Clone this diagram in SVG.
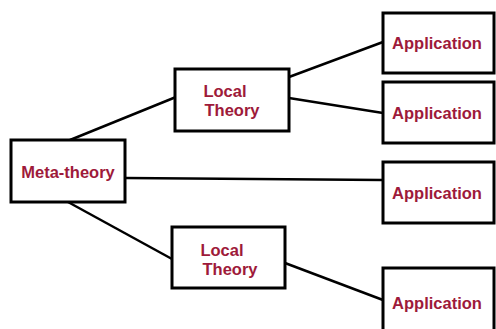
<svg xmlns="http://www.w3.org/2000/svg" width="496" height="329" viewBox="0 0 496 329">
<style>
.box{fill:#fff;stroke:#000;stroke-width:3}
.t{font-family:"Liberation Sans",Arial,sans-serif;font-weight:bold;font-size:16.5px;fill:#9E1A3A;text-anchor:middle}
.c{stroke:#000;stroke-width:2.5;fill:none}
</style>
<rect width="496" height="329" fill="#fff"/>
<g id="connectors">
<line class="c" x1="70" y1="140" x2="176" y2="97"/>
<line class="c" x1="125" y1="178" x2="383" y2="180"/>
<line class="c" x1="68" y1="202" x2="172" y2="259"/>
<line class="c" x1="289" y1="77" x2="383" y2="42"/>
<line class="c" x1="289" y1="98" x2="383" y2="113"/>
<line class="c" x1="285" y1="263" x2="383" y2="300"/>
</g>
<g id="meta">
<rect class="box" x="11" y="140" width="114" height="62"/>
<text class="t" x="68" y="178">Meta-theory</text>
</g>
<g id="local1">
<rect class="box" x="175" y="69" width="114" height="62"/>
<text class="t" x="225" y="97">Local</text>
<text class="t" x="232" y="116">Theory</text>
</g>
<g id="local2">
<rect class="box" x="172" y="227" width="113" height="61"/>
<text class="t" x="222" y="256">Local</text>
<text class="t" x="230" y="275">Theory</text>
</g>
<g id="app1">
<rect class="box" x="383" y="13" width="111" height="60"/>
<text class="t" x="437" y="49">Application</text>
</g>
<g id="app2">
<rect class="box" x="383" y="82" width="111" height="61"/>
<text class="t" x="437" y="119">Application</text>
</g>
<g id="app3">
<rect class="box" x="383" y="162" width="111" height="61"/>
<text class="t" x="437" y="199">Application</text>
</g>
<g id="app4">
<rect class="box" x="383" y="268" width="111" height="64"/>
<text class="t" x="437" y="309">Application</text>
</g>
</svg>
